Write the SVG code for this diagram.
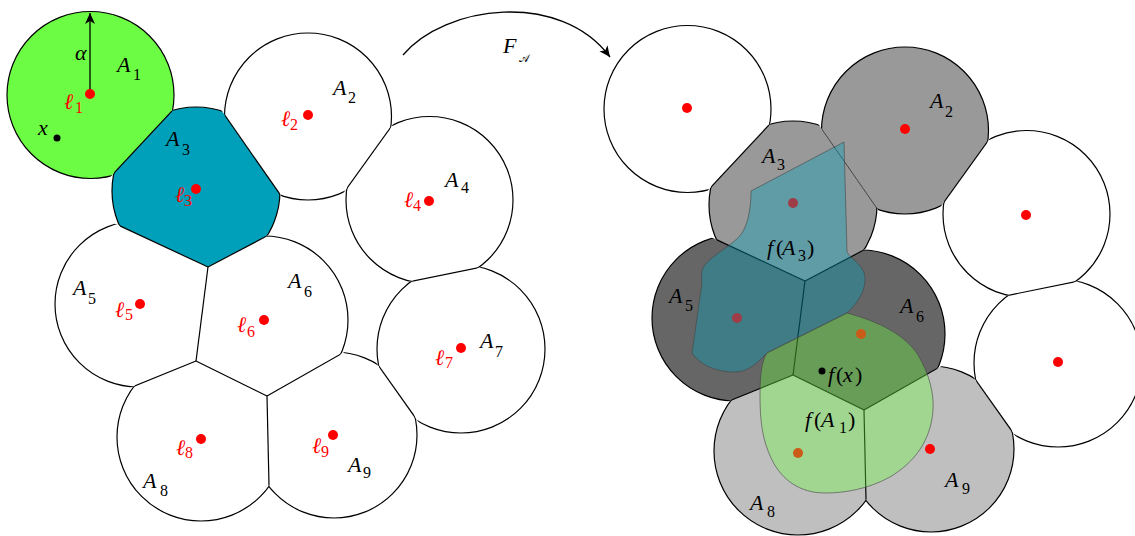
<svg xmlns="http://www.w3.org/2000/svg" width="1135" height="536" viewBox="0 0 1135 536">
<defs>
<style>
.cell{stroke:#000;stroke-width:1.2}
.edge{stroke:#000;stroke-width:1.2;fill:none}
.thin{stroke-width:0.6}
.w{fill:#fff}
.g1{fill:#6dfc44}
.g3{fill:#00a0ba}
.gm{fill:#999}
.gd{fill:#666}
.gl{fill:#bfbfbf}
.dot{fill:#f00}
.t{font-family:"Liberation Serif","Times New Roman",serif;font-style:italic;font-size:22px;fill:#000}
.l{font-family:"Liberation Serif","Times New Roman",serif;font-style:italic;font-size:22px;fill:#f00}
.sb{font-family:"Liberation Serif","Times New Roman",serif;font-style:normal;font-size:16px}
.up{font-style:normal}
.ovb{fill:#00a0ba;fill-opacity:0.38;stroke:#444;stroke-opacity:0.6;stroke-width:1}
.ovg{fill:#6cff40;fill-opacity:0.36;stroke:#444;stroke-opacity:0.6;stroke-width:1}
.arr{fill:none;stroke:#000;stroke-width:1.3}
</style>
<marker id="ah" viewBox="-12 -6 13 12" refX="0" refY="0" markerWidth="13" markerHeight="12" orient="auto" markerUnits="userSpaceOnUse">
<path d="M0,0 L-11,-5 L-8,0 L-11,5 Z" fill="#000"/>
</marker>
<circle id="k1" cx="90.5" cy="95" r="83.5"/>
<circle id="k2" cx="308" cy="116.5" r="83.5"/>
<circle id="k3" cx="196" cy="191" r="84"/>
<circle id="k4" cx="429.5" cy="200" r="83.5"/>
<circle id="k5" cx="138" cy="304" r="83"/>
<circle id="k6" cx="264" cy="320" r="84"/>
<circle id="k7" cx="461" cy="349" r="84"/>
<circle id="k8" cx="201" cy="437" r="84"/>
<circle id="k9" cx="334" cy="435" r="83"/>
<clipPath id="c1"><use href="#k1"/></clipPath>
<clipPath id="c2"><use href="#k2"/></clipPath>
<clipPath id="c3"><use href="#k3"/></clipPath>
<clipPath id="c4"><use href="#k4"/></clipPath>
<clipPath id="c5"><use href="#k5"/></clipPath>
<clipPath id="c6"><use href="#k6"/></clipPath>
<clipPath id="c7"><use href="#k7"/></clipPath>
<clipPath id="c8"><use href="#k8"/></clipPath>
<clipPath id="c9"><use href="#k9"/></clipPath>
<clipPath id="v1"><polygon points="-10,-10 285,-10 -10,306"/></clipPath>
<clipPath id="v2"><polygon points="114,-44 310.6,238.4 479,5 479,-44"/></clipPath>
<clipPath id="v3"><polygon points="200.6,80.3 297.6,219.7 208,267 81.4,207.9"/></clipPath>
<clipPath id="v4"><polygon points="257.1,312.7 479,5 620,5 620,239"/></clipPath>
<clipPath id="v5"><polygon points="-20,160.6 208,267 196,361 -20,448.9"/></clipPath>
<clipPath id="v6"><polygon points="208,267 373,180 460,180 452,291 267,396 196,361"/></clipPath>
<clipPath id="v7"><polygon points="330.3,297.8 620,239 620,560 495,530"/></clipPath>
<clipPath id="v8"><polygon points="-40,457 196,361 267,396 271,578 -40,578"/></clipPath>
<clipPath id="v9"><polygon points="267,396 361.8,342.2 495,530 271,578"/></clipPath>
</defs>
<rect width="1135" height="536" fill="#fff"/>

<!-- left diagram -->
<g id="L1">
<use href="#k1" class="cell g1" clip-path="url(#v1)"/>
<line x1="90" y1="94" x2="90" y2="13" class="arr" marker-end="url(#ah)"/>
<circle cx="90" cy="94" r="5" class="dot"/>
<text class="t" x="75" y="60" font-size="23">α</text>
<text class="t" x="117" y="72">A</text><text class="t sb" x="133" y="80">1</text>
<text class="l" x="64" y="109">ℓ</text><text class="l sb" x="75" y="113">1</text>
<text class="t" x="38" y="135" font-size="23">x</text>
<circle cx="57" cy="138" r="3.5" fill="#000"/>
</g>
<g id="L2">
<use href="#k2" class="cell w" clip-path="url(#v2)"/>
<circle cx="308" cy="115" r="5" class="dot"/>
<text class="t" x="333" y="95">A</text><text class="t sb" x="348" y="103">2</text>
<text class="l" x="281" y="126">ℓ</text><text class="l sb" x="290" y="130">2</text>
</g>
<g id="L3">
<use href="#k3" class="cell g3" clip-path="url(#v3)"/>
<circle cx="196" cy="189" r="5" class="dot"/>
<text class="t" x="166" y="146">A</text><text class="t sb" x="182" y="155">3</text>
<text class="l" x="175" y="202">ℓ</text><text class="l sb" x="184" y="206">3</text>
</g>
<g id="L4">
<use href="#k4" class="cell w" clip-path="url(#v4)"/>
<circle cx="429" cy="201" r="5" class="dot"/>
<text class="t" x="445" y="187">A</text><text class="t sb" x="461" y="193">4</text>
<text class="l" x="404" y="207">ℓ</text><text class="l sb" x="413" y="211">4</text>
</g>
<g id="L5">
<use href="#k5" class="cell w" clip-path="url(#v5)"/>
<circle cx="140" cy="304" r="5" class="dot"/>
<text class="t" x="73" y="295">A</text><text class="t sb" x="88" y="304">5</text>
<text class="l" x="115" y="317">ℓ</text><text class="l sb" x="125" y="320">5</text>
</g>
<g id="L6">
<use href="#k6" class="cell w" clip-path="url(#v6)"/>
<circle cx="264" cy="320" r="5" class="dot"/>
<text class="t" x="288" y="288">A</text><text class="t sb" x="304" y="297">6</text>
<text class="l" x="237" y="332">ℓ</text><text class="l sb" x="247" y="337">6</text>
</g>
<g id="L7">
<use href="#k7" class="cell w" clip-path="url(#v7)"/>
<circle cx="461" cy="348" r="5" class="dot"/>
<text class="t" x="480" y="348">A</text><text class="t sb" x="495" y="357">7</text>
<text class="l" x="435" y="365">ℓ</text><text class="l sb" x="445" y="368">7</text>
</g>
<g id="L8">
<use href="#k8" class="cell w" clip-path="url(#v8)"/>
<circle cx="201" cy="439" r="5" class="dot"/>
<text class="t" x="143" y="488">A</text><text class="t sb" x="160" y="496">8</text>
<text class="l" x="176" y="455">ℓ</text><text class="l sb" x="185" y="458">8</text>
</g>
<g id="L9">
<use href="#k9" class="cell w" clip-path="url(#v9)"/>
<circle cx="333" cy="435" r="5" class="dot"/>
<text class="t" x="348" y="472">A</text><text class="t sb" x="363" y="478">9</text>
<text class="l" x="312" y="453">ℓ</text><text class="l sb" x="321" y="457">9</text>
</g>
<g id="boundariesL" class="edge">
<g clip-path="url(#c1)"><line clip-path="url(#c3)" x1="175.6" y1="107.1" x2="109.4" y2="177.9"/></g>
<g clip-path="url(#c2)"><line clip-path="url(#c3)" x1="219.6" y1="107.7" x2="283.4" y2="199.3"/></g>
<g clip-path="url(#c2)"><line clip-path="url(#c4)" x1="343.5" y1="192.9" x2="394.5" y2="122.1"/></g>
<g clip-path="url(#c4)"><line clip-path="url(#c7)" x1="407.9" y1="282" x2="482.1" y2="267"/></g>
<g clip-path="url(#c3)"><line clip-path="url(#c5)" x1="112" y1="222.2" x2="208" y2="267"/></g>
<g clip-path="url(#c3)"><line clip-path="url(#c6)" x1="267.4" y1="235.7" x2="208" y2="267"/></g>
<line x1="208" y1="267" x2="196" y2="361"/>
<g clip-path="url(#c5)"><line clip-path="url(#c8)" x1="132.3" y1="386.9" x2="196" y2="361"/></g>
<line x1="196" y1="361" x2="267" y2="396"/>
<g clip-path="url(#c6)"><line clip-path="url(#c9)" x1="267" y1="396" x2="346.9" y2="350.6"/></g>
<g clip-path="url(#c7)"><line clip-path="url(#c9)" x1="374.9" y1="360.6" x2="420.1" y2="424.4"/></g>
<g clip-path="url(#c8)"><line clip-path="url(#c9)" x1="267" y1="396" x2="269.2" y2="494"/></g>
</g>

<!-- right diagram -->
<g id="R1">
<use href="#k1" class="cell w" clip-path="url(#v1)" transform="translate(597,14)"/>
<circle cx="687" cy="108" r="5" class="dot"/>
</g>
<g id="R2">
<use href="#k2" class="cell gm" clip-path="url(#v2)" transform="translate(597,14)"/>
<circle cx="905" cy="129" r="5" class="dot"/>
<text class="t" x="930" y="108">A</text><text class="t sb" x="945" y="117">2</text>
</g>
<g id="R3">
<use href="#k3" class="cell gm" clip-path="url(#v3)" transform="translate(597,14)"/>
<circle cx="793" cy="203" r="5" class="dot"/>
<text class="t" x="762" y="163">A</text><text class="t sb" x="777" y="170">3</text>
</g>
<g id="R4">
<use href="#k4" class="cell w" clip-path="url(#v4)" transform="translate(597,14)"/>
<circle cx="1026" cy="215" r="5" class="dot"/>
</g>
<g id="R5">
<use href="#k5" class="cell gd" clip-path="url(#v5)" transform="translate(597,14)"/>
<circle cx="737" cy="318" r="5" class="dot"/>
<text class="t" x="669" y="303">A</text><text class="t sb" x="685" y="311">5</text>
</g>
<g id="R6">
<use href="#k6" class="cell gd" clip-path="url(#v6)" transform="translate(597,14)"/>
<circle cx="861" cy="334" r="5" class="dot"/>
<text class="t" x="900" y="313">A</text><text class="t sb" x="916" y="322">6</text>
</g>
<g id="R7">
<use href="#k7" class="cell w" clip-path="url(#v7)" transform="translate(597,14)"/>
<circle cx="1058" cy="362" r="5" class="dot"/>
</g>
<g id="R8">
<use href="#k8" class="cell gl" clip-path="url(#v8)" transform="translate(597,14)"/>
<circle cx="798" cy="453" r="5" class="dot"/>
<text class="t" x="750" y="510">A</text><text class="t sb" x="767" y="517">8</text>
</g>
<g id="R9">
<use href="#k9" class="cell gl" clip-path="url(#v9)" transform="translate(597,14)"/>
<circle cx="930" cy="449" r="5" class="dot"/>
<text class="t" x="945" y="487">A</text><text class="t sb" x="962" y="494">9</text>
</g>
<g id="boundariesR" class="edge" transform="translate(597,14)">
<g clip-path="url(#c1)"><line clip-path="url(#c3)" x1="175.6" y1="107.1" x2="109.4" y2="177.9"/></g>
<g clip-path="url(#c2)"><line clip-path="url(#c3)" class="thin" x1="219.6" y1="107.7" x2="283.4" y2="199.3"/></g>
<g clip-path="url(#c2)"><line clip-path="url(#c4)" x1="343.5" y1="192.9" x2="394.5" y2="122.1"/></g>
<g clip-path="url(#c4)"><line clip-path="url(#c7)" x1="407.9" y1="282" x2="482.1" y2="267"/></g>
<g clip-path="url(#c3)"><line clip-path="url(#c5)" x1="112" y1="222.2" x2="208" y2="267"/></g>
<g clip-path="url(#c3)"><line clip-path="url(#c6)" x1="267.4" y1="235.7" x2="208" y2="267"/></g>
<line x1="208" y1="267" x2="196" y2="361"/>
<g clip-path="url(#c5)"><line clip-path="url(#c8)" x1="132.3" y1="386.9" x2="196" y2="361"/></g>
<line x1="196" y1="361" x2="267" y2="396"/>
<g clip-path="url(#c6)"><line clip-path="url(#c9)" x1="267" y1="396" x2="346.9" y2="350.6"/></g>
<g clip-path="url(#c7)"><line clip-path="url(#c9)" x1="374.9" y1="360.6" x2="420.1" y2="424.4"/></g>
<g clip-path="url(#c8)"><line clip-path="url(#c9)" x1="267" y1="396" x2="269.2" y2="494"/></g>
</g>

<!-- images f(A3), f(A1) -->
<g id="fA3">
<path class="ovb" d="M844,142 L751,191 C751,205 749,222 742,233 C735,244 712,255 704,266 C700,272 702,283 702,283 L692,353 C698,362 712,372 735,372 C750,372 760,360 767,353 L847,313 C858,303 866,290 865,277 C864,265 850,258 847,252 Z"/>
<text class="t" y="255"><tspan x="767">f</tspan><tspan class="up" x="776">(</tspan><tspan x="782">A</tspan><tspan class="sb" x="798" y="261">3</tspan><tspan class="up" x="807" y="255">)</tspan></text>
</g>
<g id="fA1">
<path class="ovg" d="M767,353 L847,313 C880,322 905,335 918,355 C930,375 934,395 933,410 C931,440 915,462 890,477 C868,489 845,493 825,493 C800,493 782,480 772,460 C762,440 760,420 760,395 C760,375 762,360 767,353 Z"/>
<text class="t" y="427"><tspan x="805">f</tspan><tspan class="up" x="814">(</tspan><tspan x="821">A</tspan><tspan class="sb" x="839" y="433">1</tspan><tspan class="up" x="848" y="427">)</tspan></text>
<circle cx="822" cy="371" r="3.5" fill="#000"/>
<text class="t" y="382"><tspan x="828">f</tspan><tspan class="up" x="836">(</tspan><tspan x="843">x</tspan><tspan class="up" x="855">)</tspan></text>
</g>

<!-- connector -->
<g id="connectors">
<path class="arr" d="M403,55 C445,5 560,-10 610,57" marker-end="url(#ah)"/>
<text class="t" x="503" y="53">F</text>
<text x="519" y="62" font-family="DejaVu Serif, DejaVu Sans, serif" font-size="11" fill="#000">𝒜</text>
</g>
</svg>
